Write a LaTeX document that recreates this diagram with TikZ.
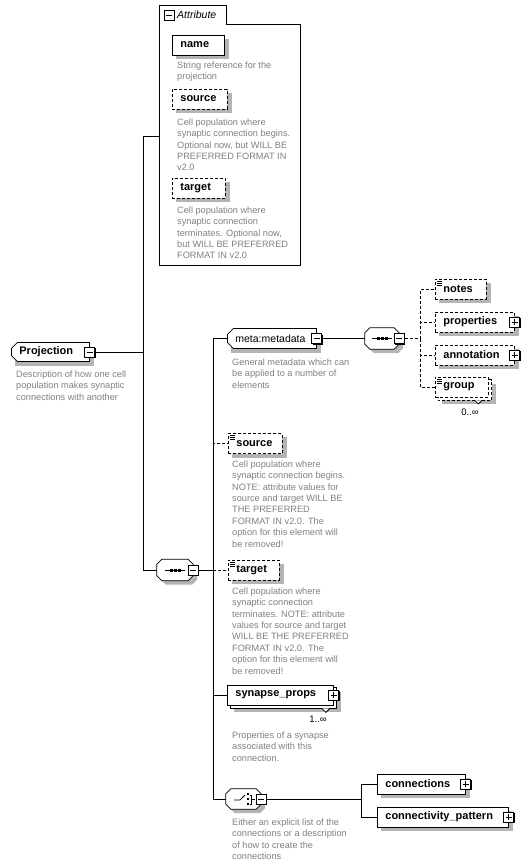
\documentclass[tikz,border=0pt]{standalone}
\usepackage{fontspec}
\setmainfont{Liberation Sans}
\usetikzlibrary{shapes.misc,backgrounds}

\definecolor{descgray}{RGB}{128,128,128}
\definecolor{dropgray}{RGB}{180,180,180}

\tikzset{
  link/.style={line width=0.8pt},
  optlink/.style={link, dash pattern=on 3pt off 2pt},
  box/.style={draw, fill=white, line width=0.8pt, font=\fontsize{11}{13}\selectfont\bfseries,
    minimum height=20pt, inner xsep=8pt, inner ysep=0pt, anchor=west, align=left},
  opt/.style={box, dash pattern=on 3pt off 2pt},
  glob/.style={box, chamfered rectangle, chamfered rectangle corners={north west,south west},
    chamfered rectangle xsep=3pt, chamfered rectangle ysep=3pt, inner xsep=5pt},
  octo/.style={draw, fill=white, line width=0.8pt},
  note/.style={path picture={\foreach \k in {2,4,6}
    \draw[line width=0.7pt,solid] ([xshift=1.5pt,yshift=-\k pt]path picture bounding box.north west) -- ++(5,0);}},
  pm/.style={draw, fill=white, line width=0.8pt, minimum size=10pt, inner sep=0pt},
  minus/.style={pm, path picture={\draw ([xshift=2pt]path picture bounding box.west) -- ([xshift=-2pt]path picture bounding box.east);}},
  plus/.style={pm, path picture={\draw ([xshift=2pt]path picture bounding box.west) -- ([xshift=-2pt]path picture bounding box.east);
    \draw ([yshift=-2pt]path picture bounding box.north) -- ([yshift=2pt]path picture bounding box.south);}},
  desc/.style={anchor=north west, inner sep=0pt, align=left, text=descgray, font=\fontsize{9.2}{11.4}\selectfont},
  mult/.style={inner sep=0pt, font=\fontsize{9.5}{11}\selectfont}
}

\begin{document}
\begin{tikzpicture}[x=1pt,y=-1pt]

%% compositor outline round an empty node
\newcommand\octpath[1]{([xshift=5pt]#1.north west) -- ([xshift=-5pt]#1.north east) -- ([yshift=-5pt]#1.north east)
    -- ([yshift=5pt]#1.south east) -- ([xshift=-5pt]#1.south east) -- ([xshift=5pt]#1.south west)
    -- ([yshift=5pt]#1.south west) -- ([yshift=-5pt]#1.north west) -- cycle}
\newcommand\octagon[1]{%
  \fill[dropgray, transform canvas={shift={(4pt,-4pt)}}] \octpath{#1};
  \draw[octo] \octpath{#1};}
\newcommand\seqmark[1]{%
  \draw[link] ([xshift=-10pt]#1.center) -- ([xshift=10pt]#1.center);
  \foreach \d in {-4,0,4} \fill ([xshift=\d pt]#1.center) +(-1.5,-1.5) rectangle +(1.5,1.5);}
%% plus / minus box with its dark edge
\newcommand\pmbox[3]{%
  \fill ([shift={(-4,-4)}]#3) rectangle ([shift={(6,6)}]#3);
  \node[#1] (#2) at (#3) {};}

\useasboundingbox (0,0) rectangle (528,866);

%% attribute group
\begin{pgfonlayer}{background}
\draw[fill=white,line width=0.8pt] (159,5.5) -- (226,5.5) -- (226,24) -- (300,24) -- (300,265) -- (159,265) -- cycle;
\end{pgfonlayer}
\pmbox{minus}{attrm}{169,15}
\node[anchor=west, inner sep=0pt, font=\fontsize{10.5}{12}\selectfont\itshape] (attrt) at (177,15) {Attribute};
\coordinate (attr) at (159,136);

\node[box, text width=36pt] (name) at (172,45) {name};
\node[desc] (named) at (177,61.5) {String reference for the\\projection};
\node[opt, text width=39pt] (asrc) at (172,99) {source};
\node[desc] (asrcd) at (177,118.5) {Cell population where\\synaptic connection begins.\\Optional now, but WILL BE\\PREFERRED FORMAT IN\\v2.0};
\node[opt, text width=37pt] (atgt) at (172,188) {target};
\node[desc] (atgtd) at (177,206.5) {Cell population where\\synaptic connection\\terminates. Optional now,\\but WILL BE PREFERRED\\FORMAT IN v2.0};

%% root element
\node[glob, text width=62pt, minimum height=19pt] (proj) at (11,352) {Projection};
\pmbox{minus}{projm}{proj.east}
\node[desc] (projd) at (16,370.5) {Description of how one cell\\population makes synaptic\\connections with another};

\coordinate (f1) at (143,352);
\draw[link] (projm.east) -- (f1) |- (attr);

%% main sequence
\node[inner sep=0pt, minimum width=36pt, minimum height=21pt] (seq1) at (175,570) {};
\octagon{seq1}
\seqmark{seq1}
\pmbox{minus}{seq1m}{seq1.east}
\draw[link] (f1) |- (seq1.west);
\coordinate (f3) at (213,570);

%% metadata
\node[glob, text width=73pt, font=\fontsize{10.5}{13}\selectfont] (meta) at (227,338.5) {meta:metadata};
\pmbox{minus}{metam}{meta.east}
\node[desc] (metad) at (232,358.5) {General metadata which can\\be applied to a number of\\elements};

\node[inner sep=0pt, minimum width=34pt, minimum height=21pt] (seq2) at (382,338.5) {};
\octagon{seq2}
\seqmark{seq2}
\pmbox{minus}{seq2m}{seq2.east}
\draw[link] (metam.east) -- (seq2.west);

\node[opt, note, text width=35pt] (notes) at (435,289) {notes};
\node[opt, text width=63pt] (prop) at (435,322) {properties};
\pmbox{plus}{propp}{prop.east}
\node[opt, text width=63pt] (anno) at (435,355) {annotation};
\pmbox{plus}{annop}{anno.east}
\node[opt, note, text width=37pt] (grp) at (435,387) {group};
\node[mult] (grpm) at (470,412) {0..∞};

\coordinate (f2) at (420,338.5);
\draw[optlink] (seq2m.east) -- (f2);
\foreach \c in {notes,prop,anno,grp} \draw[optlink] (f2) |- (\c.west);

%% sequence children
\node[opt, note, text width=38pt] (src) at (228,443.5) {source};
\node[desc] (srcd) at (232,460.5) {Cell population where\\synaptic connection begins.\\NOTE: attribute values for\\source and target WILL BE\\THE PREFERRED\\FORMAT IN v2.0. The\\option for this element will\\be removed!};
\node[opt, note, text width=35pt] (tgt) at (228,570) {target};
\node[desc] (tgtd) at (232,587.5) {Cell population where\\synaptic connection\\terminates. NOTE: attribute\\values for source and target\\WILL BE THE PREFERRED\\FORMAT IN v2.0. The\\option for this element will\\be removed!};
\node[box, text width=90pt] (syn) at (227,695) {synapse\_props};
\pmbox{plus}{synp}{syn.east}
\node[mult] (synm) at (318,719) {1..∞};
\node[desc] (synd) at (232,731.5) {Properties of a synapse\\associated with this\\connection.};

%% choice
\node[inner sep=0pt, minimum width=35pt, minimum height=20pt] (ch) at (243.5,799) {};
\octagon{ch}
\draw[link] ([shift={(-9.5,1)}]ch.center) -- ++(6,0) -- ++(5,-5);
\foreach \d in {-5,0,5} \fill ([shift={(4.5,\d)}]ch.center) +(-1.2,-1.2) rectangle +(1.2,1.2);
\draw[link] ([shift={(6,-4)}]ch.center) -- ++(2,0) -- ++(0,9) -- ++(-2,0);
\draw[link] ([shift={(8,0.5)}]ch.center) -- ++(3,0);
\pmbox{minus}{chm}{ch.east}
\node[desc] (chd) at (232,818.5) {Either an explicit list of the\\connections or a description\\of how to create the\\connections};

\node[box, text width=72pt] (conn) at (377,784) {connections};
\pmbox{plus}{connp}{conn.east}
\node[box, text width=115pt] (cpat) at (377,817) {connectivity\_pattern};
\pmbox{plus}{cpatp}{cpat.east}

\coordinate (f4) at (361,799);
\draw[link] (chm.east) -- (f4);
\draw[link] (f4) |- (conn.west);
\draw[link] (f4) |- (cpat.west);

%% sequence links
\draw[link] (seq1m.east) -- (f3);
\draw[link] (f3) |- (meta.west);
\draw[optlink] (f3) |- (src.west);
\draw[optlink] (f3) -- (tgt.west);
\draw[link] (f3) |- (syn.west);
\draw[link] (f3) |- (ch.west);

%% shadows and repeated boxes behind
\begin{pgfonlayer}{background}
\foreach \n in {name,asrc,atgt,notes,prop,anno,src,tgt,conn,cpat}
  \fill[dropgray] ([shift={(4,4)}]\n.north west) rectangle ([shift={(4,4)}]\n.south east);
\fill[dropgray] ([shift={(4,-5.5)}]proj.west) rectangle ([shift={(4,13.5)}]proj.east);
\fill[dropgray] ([shift={(4,-6)}]meta.west) rectangle ([shift={(4,14)}]meta.east);
\fill[dropgray] ([shift={(7,7)}]syn.north west) rectangle ([shift={(7,7)}]syn.south east);
\draw[link, fill=white] ([shift={(3,3)}]syn.north west) rectangle ([shift={(3,3)}]syn.south east);
\fill[dropgray] ([shift={(7,7)}]grp.north west) rectangle ([shift={(7,7)}]grp.south east);
\draw[optlink, fill=white] ([shift={(3,3)}]grp.north west) rectangle ([shift={(3,3)}]grp.south east);
\end{pgfonlayer}
\draw[link, fill=white] ([shift={(-12,3)}]syn.south east) -- ++(4,4) -- ++(4,-4);
\draw[link, fill=white] ([shift={(-14,3)}]grp.south east) -- ++(3.5,3.5) -- ++(3.5,-3.5);

\end{tikzpicture}
\end{document}
